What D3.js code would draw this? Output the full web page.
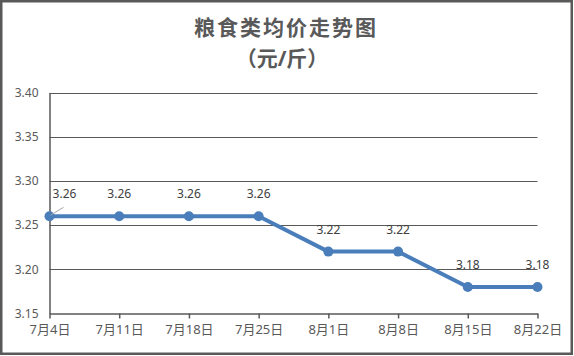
<!DOCTYPE html>
<html><head><meta charset="utf-8">
<script src="https://cdn.jsdelivr.net/npm/d3@7"></script>
<style>
html,body{margin:0;padding:0;background:#fff;}
svg{display:block;}
text{font-family:"Noto Sans","Noto Sans CJK SC",sans-serif;}
</style></head>
<body>
<script>
const categories = ["7月4日","7月11日","7月18日","7月25日","8月1日","8月8日","8月15日","8月22日"];
const prices = [3.26, 3.26, 3.26, 3.26, 3.22, 3.22, 3.18, 3.18];
const yTicks = [3.15, 3.20, 3.25, 3.30, 3.35, 3.40];
const title = "粮食类均价走势图";
const subtitle = "（元/斤）";

const W = 574, H = 356;
const svg = d3.select("body").append("svg").attr("width", W).attr("height", H);

svg.append("rect").attr("x",1.25).attr("y",1.25).attr("width",W-3.5).attr("height",H-3.5)
  .attr("fill","#fff").attr("stroke","#595959").attr("stroke-width",2.5);

const x = d3.scalePoint().domain(categories).range([49.5, 537.5]);
const y = d3.scaleLinear().domain([3.15, 3.40]).range([313.5, 92.5]);

// title
svg.append("text").attr("x", 286).attr("y", 35).attr("text-anchor","middle")
  .attr("font-family","'Noto Sans CJK SC',sans-serif").attr("font-size",21).attr("letter-spacing",2)
  .attr("font-weight","bold").attr("fill","#595959").text(title);
svg.append("text").attr("x", 282).attr("y", 66).attr("text-anchor","middle")
  .attr("font-family","'Noto Sans CJK SC',sans-serif").attr("font-size",21)
  .attr("font-weight","bold").attr("fill","#595959").text(subtitle);

// gridlines
svg.append("g").selectAll("line").data(yTicks.slice(1)).join("line")
  .attr("x1", 49.5).attr("x2", 537.5)
  .attr("y1", d => Math.round(y(d))+0.5).attr("y2", d => Math.round(y(d))+0.5)
  .attr("stroke","#595959").attr("stroke-width",1);

// y axis
const yAxis = d3.axisLeft(y).tickValues(yTicks).tickFormat(d3.format(".2f")).tickSize(0).tickPadding(11);
const gy = svg.append("g").attr("transform","translate(49.5,0)").call(yAxis);
gy.select(".domain").attr("stroke","#595959").attr("stroke-width",1.5);
gy.selectAll("text").attr("fill","#595959").attr("font-size",12).attr("font-family","'Noto Sans',sans-serif");

// x axis
const xAxis = d3.axisBottom(x).tickSize(5).tickSizeOuter(0).tickPadding(6);
const gx = svg.append("g").attr("transform","translate(0,313.5)").call(xAxis);
gx.select(".domain").attr("stroke","#595959").attr("stroke-width",1.5);
gx.selectAll(".tick line").attr("stroke","#595959").attr("stroke-width",1.5);
gx.selectAll("text").attr("fill","#595959").attr("font-size",13)
  .attr("font-family","'Noto Sans','Noto Sans CJK SC',sans-serif");

// line
const line = d3.line().x((d,i) => x(categories[i])).y(d => y(d));
svg.append("path").datum(prices).attr("d", line).attr("fill","none")
  .attr("stroke","#4A7EBB").attr("stroke-width",4).attr("stroke-linejoin","round");
svg.append("g").selectAll("circle").data(prices).join("circle")
  .attr("cx",(d,i)=>x(categories[i])).attr("cy",d=>y(d)).attr("r",5).attr("fill","#4A7EBB");

// leader line for first label
svg.append("line").attr("x1", x(categories[0])+1).attr("y1", y(prices[0])-1)
  .attr("x2", x(categories[0])+14).attr("y2", y(prices[0])-9)
  .attr("stroke","#a6a6a6").attr("stroke-width",1);

// data labels
svg.append("g").selectAll("text").data(prices).join("text")
  .attr("x",(d,i)=> i===0 ? x(categories[i])+15 : x(categories[i]))
  .attr("y",d=>y(d)-18)
  .attr("text-anchor","middle").attr("font-size",12).attr("fill","#404040")
  .text(d=>d3.format(".2f")(d));
</script>
</body></html>
